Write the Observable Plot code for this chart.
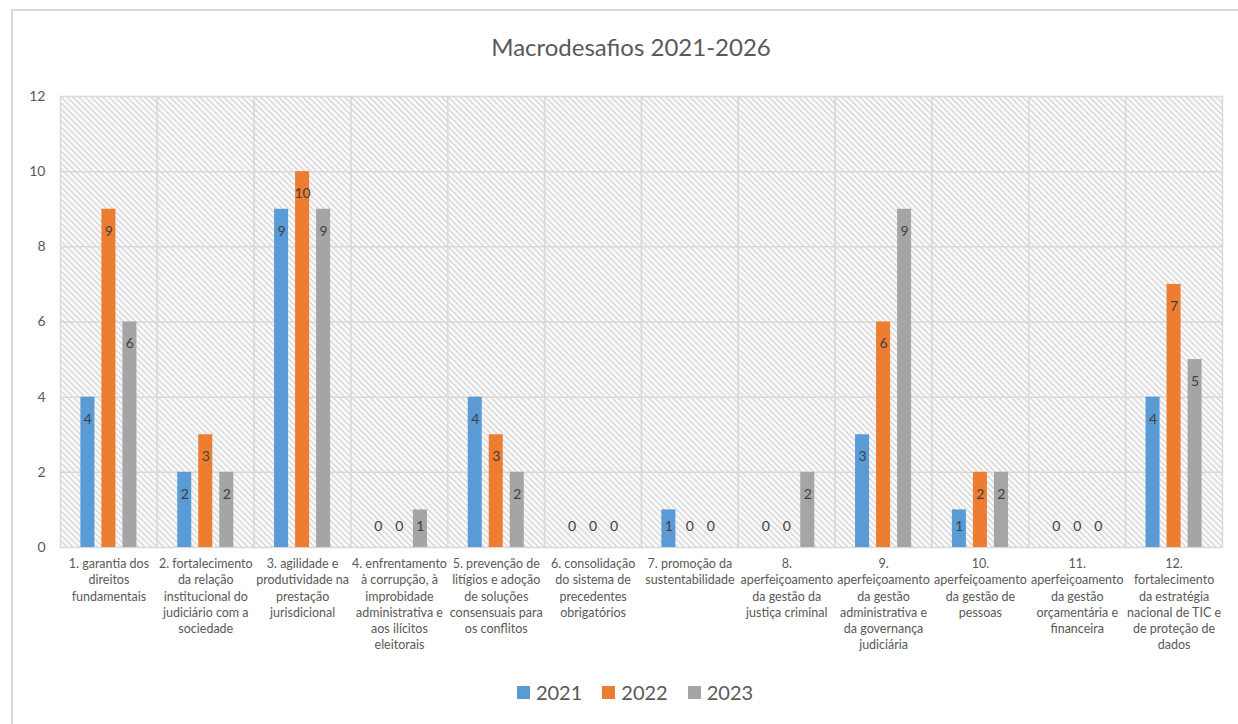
<!DOCTYPE html>
<html>
<head>
<meta charset="utf-8">
<script src="https://cdn.jsdelivr.net/npm/d3@7"></script>
<script src="https://cdn.jsdelivr.net/npm/@observablehq/plot@0.6"></script>
<style>
  html, body { margin: 0; padding: 0; background: #fff; }
  #wrap { position: relative; width: 1238px; height: 724px; overflow: hidden; font-family: Lato, "Open Sans", sans-serif; }
  #border { position: absolute; left: 11px; top: 9px; width: 1300px; height: 800px; border-left: 2px solid #d9d9d9; border-top: 2px solid #d9d9d9; }
  #chart { position: absolute; left: 0; top: 0; }
  #title { position: absolute; left: 0; top: 32px; width: 1238px; padding-left: 24px; box-sizing: border-box; text-align: center; font-size: 24px; color: #595959; line-height: 30px; }
  #legend { position: absolute; left: 0; top: 678px; width: 1238px; padding-left: 32px; box-sizing: border-box; display: flex; justify-content: center; gap: 20px; font-size: 20px; color: #595959; line-height: 28px; }
  #legend span.item { display: flex; align-items: center; gap: 6px; }
  #legend span.sw { display: inline-block; width: 13px; height: 13px; }
</style>
</head>
<body>
<div id="wrap">
  <div id="border"></div>
  <div id="chart"></div>
  <div id="title">Macrodesafios 2021-2026</div>
  <div id="legend"></div>
</div>
<script>
const categories = [
  "1. garantia dos\ndireitos\nfundamentais",
  "2. fortalecimento\nda relação\ninstitucional do\njudiciário com a\nsociedade",
  "3. agilidade e\nprodutividade na\nprestação\njurisdicional",
  "4. enfrentamento\nà corrupção, à\nimprobidade\nadministrativa e\naos ilícitos\neleitorais",
  "5. prevenção de\nlitígios e adoção\nde soluções\nconsensuais para\nos conflitos",
  "6. consolidação\ndo sistema de\nprecedentes\nobrigatórios",
  "7. promoção da\nsustentabilidade",
  "8.\naperfeiçoamento\nda gestão da\njustiça criminal",
  "9.\naperfeiçoamento\nda gestão\nadministrativa e\nda governança\njudiciária",
  "10.\naperfeiçoamento\nda gestão de\npessoas",
  "11.\naperfeiçoamento\nda gestão\norçamentária e\nfinanceira",
  "12.\nfortalecimento\nda estratégia\nnacional de TIC e\nde proteção de\ndados"
];
const years = ["2021", "2022", "2023"];
const values2021 = [4, 2, 9, 0, 4, 0, 1, 0, 3, 1, 0, 4];
const values2022 = [9, 3, 10, 0, 3, 0, 0, 0, 6, 2, 0, 7];
const values2023 = [6, 2, 9, 1, 2, 0, 0, 2, 9, 2, 0, 5];
const yTicks = [0, 2, 4, 6, 8, 10, 12];
const colors = ["#5B9BD5", "#ED7D31", "#A5A5A5"];

const series = [values2021, values2022, values2023];
const data = categories.flatMap((c, i) => years.map((y, j) => ({cat: i, year: y, value: series[j][i]})));

const chart = Plot.plot({
  width: 1238,
  height: 670,
  marginTop: 96,
  marginBottom: 123,
  marginLeft: 60,
  marginRight: 16,
  style: {fontFamily: "Lato, 'Open Sans', sans-serif", color: "#595959", background: "transparent", overflow: "visible"},
  fx: {domain: d3.range(categories.length), padding: 0, round: false, axis: null},
  x: {domain: years, paddingInner: 0.333, paddingOuter: 0.97, round: false, axis: null},
  y: {domain: [0, 12], axis: null},
  color: {domain: years, range: colors},
  marks: [
    Plot.frame({fill: "url(#hatch)", stroke: "#d9d9d9", strokeWidth: 1.5}),
    Plot.gridY(yTicks.slice(1, -1), {stroke: "#d9d9d9", strokeOpacity: 1, strokeWidth: 1.5}),
    Plot.barY(data, {fx: "cat", x: "year", y: "value", fill: "year"}),
    Plot.text(data.filter(d => d.value >= 1.2), {fx: "cat", x: "year", y: "value", text: "value", dy: 22, fill: "#404040", fontSize: 14}),
    Plot.text(data.filter(d => d.value < 1.2), {fx: "cat", x: "year", y: () => 0, text: "value", dy: -21, fill: "#404040", fontSize: 14}),
    Plot.axisY({ticks: yTicks, tickSize: 0, tickPadding: 15, fontSize: 14, label: null}),
    Plot.axisFx({anchor: "bottom", tickSize: 0, tickPadding: 9, fontSize: 12.5, lineHeight: 1.3, tickFormat: i => categories[i], label: null})
  ]
});

const defs = document.createElementNS("http://www.w3.org/2000/svg", "defs");
defs.innerHTML = `<pattern id="hatch" width="6" height="6" patternUnits="userSpaceOnUse">
  <rect width="6" height="6" fill="#ffffff"/>
  <path d="M-1,-1L7,7M-1,5L1,7M5,-1L7,1" stroke="#d6d6d6" stroke-width="1.6"/>
</pattern>`;
chart.prepend(defs);
document.getElementById("chart").appendChild(chart);

const legend = document.getElementById("legend");
years.forEach((y, j) => {
  const item = document.createElement("span");
  item.className = "item";
  const sw = document.createElement("span");
  sw.className = "sw";
  sw.style.background = colors[j];
  const t = document.createElement("span");
  t.textContent = y;
  item.appendChild(sw);
  item.appendChild(t);
  legend.appendChild(item);
});
</script>
</body>
</html>
